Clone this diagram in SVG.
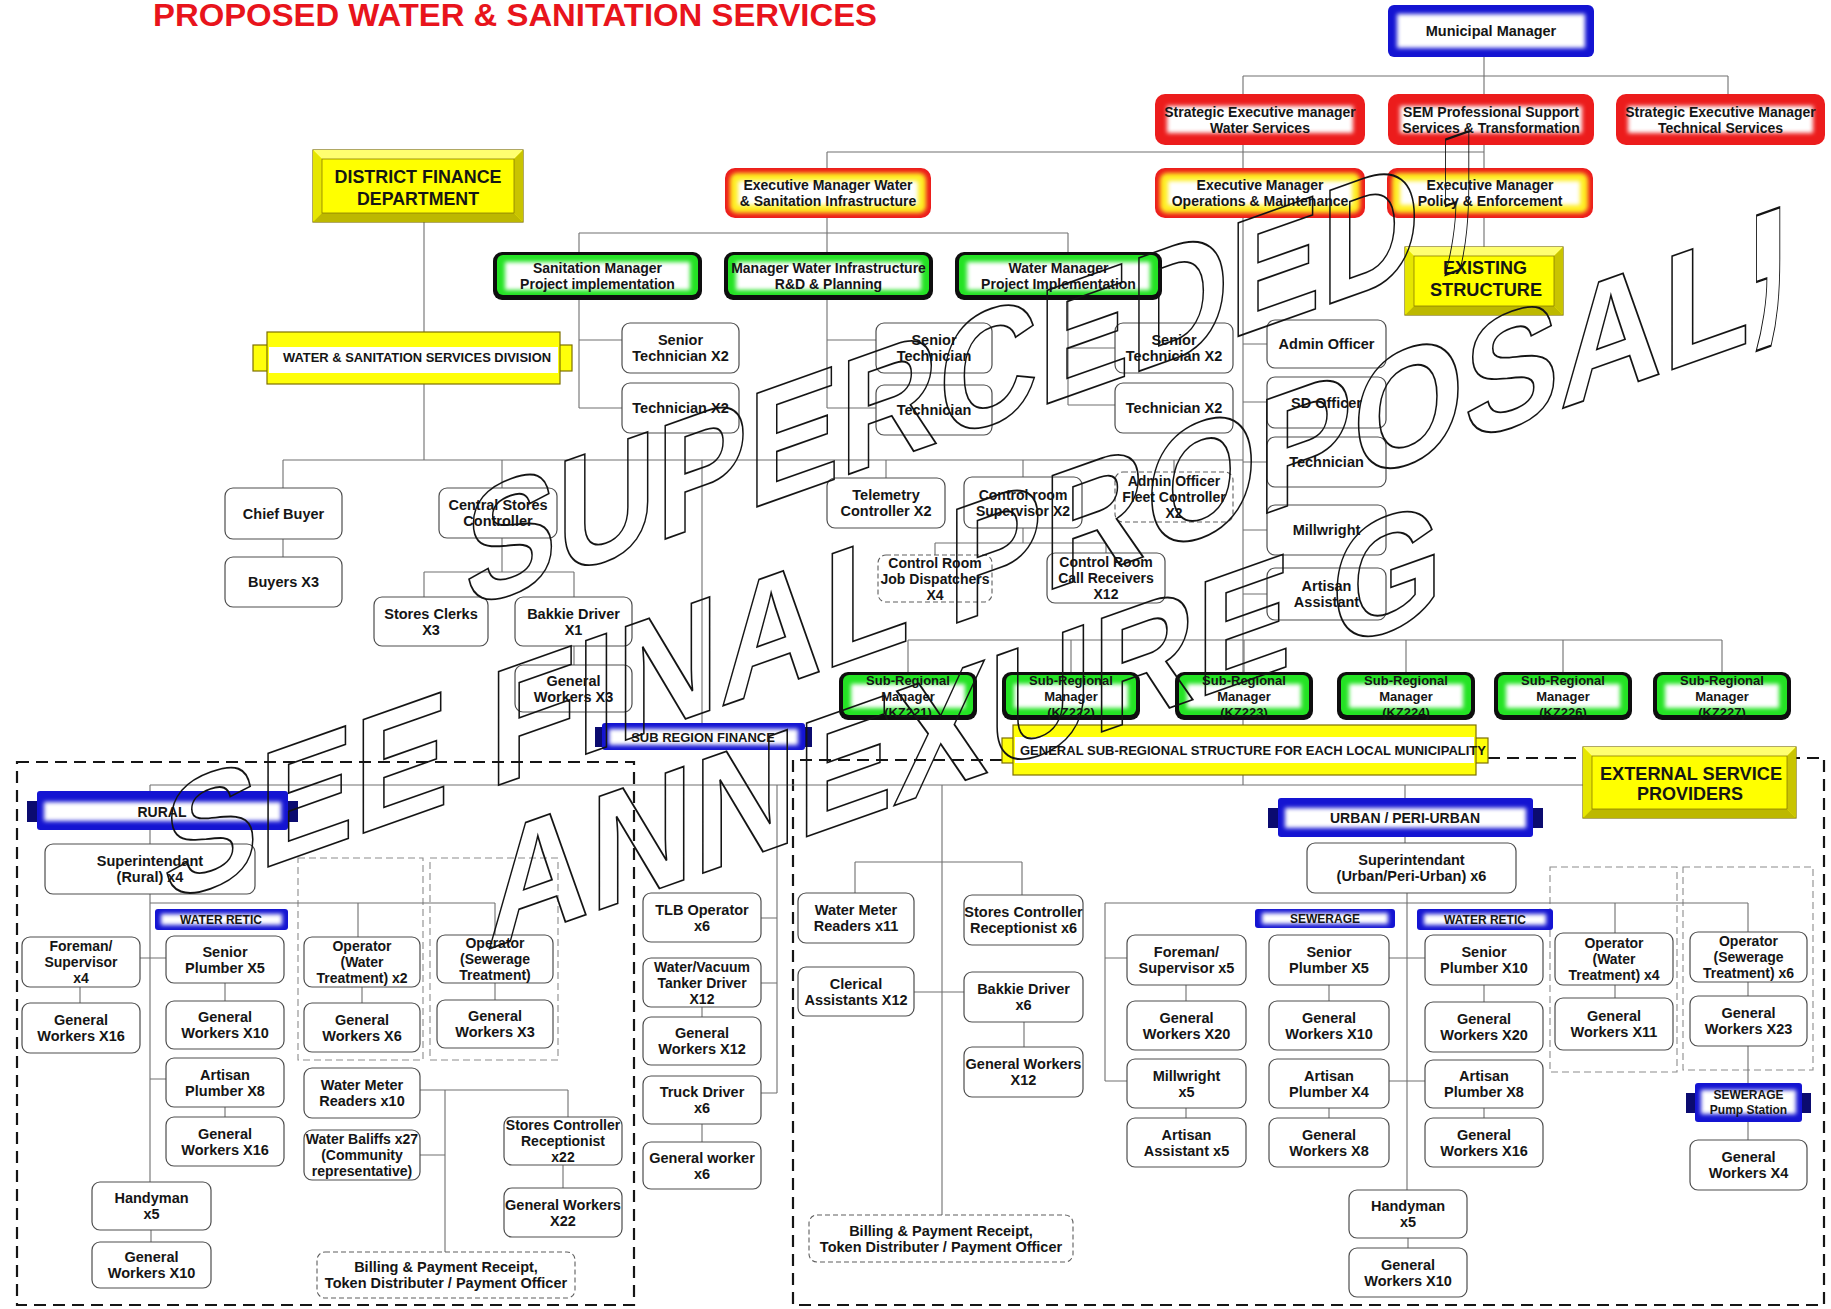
<svg xmlns="http://www.w3.org/2000/svg" width="1831" height="1309" viewBox="0 0 1831 1309">
<defs>
<style>
.t{font-family:"Liberation Sans",Arial,sans-serif;font-weight:bold;font-size:14.5px;fill:#151515;text-anchor:middle}
.s14{font-size:14px}
.s13{font-size:13px}
.s12{font-size:12px}
.hd{font-size:17.5px}
.box{fill:#fff;stroke:#4e4e4e;stroke-width:1.2}
.dbox{fill:#fff;stroke:#5e5e5e;stroke-width:1.1;stroke-dasharray:5 3}
.ln{fill:none;stroke:#707070;stroke-width:1.1}
.zone{fill:none;stroke:#151515;stroke-width:2.2;stroke-dasharray:12 7}
.sub{fill:none;stroke:#8c8c8c;stroke-width:1.1;stroke-dasharray:7 4}
.red{fill:#ec1c1c}
.ylw{fill:#ffee22}
.grk{fill:#0e0e0e}
.grn{fill:#24e324}
.blu{fill:#1414d2}
.tab{fill:#0b0b70}
.wht{fill:#fff}
.yb{fill:#ffff0a;stroke:#7d7000;stroke-width:1.2}
.ybi{fill:#ffff00;stroke:#8a7d00;stroke-width:0.8}
.bt{fill:#ffff70}.bl{fill:#e6e600}.br{fill:#c9c400}.bb{fill:#bdb800}
.wm{font-family:"Liberation Sans",Arial,sans-serif;font-weight:bold;font-size:165px;fill:none;stroke:#141414;stroke-width:1.8}
</style>
<filter id="soft" x="-10%" y="-40%" width="120%" height="180%"><feGaussianBlur stdDeviation="2"/></filter>
</defs>
<rect width="1831" height="1309" fill="#fff"/>

<text id="title" x="153" y="26" font-family="Liberation Sans,Arial,sans-serif" font-weight="bold" font-size="32" fill="#e8141c" textLength="724" lengthAdjust="spacingAndGlyphs">PROPOSED WATER &amp; SANITATION SERVICES</text>

<!-- dashed service zones -->
<g id="zones">
<path class="zone" d="M17,762H634V1305H17Z"/>
<path class="zone" d="M1002,760H793V1305H1824V758H1796M1488,758H1583"/>
<rect class="sub" x="298" y="858" width="125" height="202"/>
<rect class="sub" x="430" y="858" width="128" height="202"/>
<rect class="sub" x="1550" y="867" width="127" height="205"/>
<rect class="sub" x="1683" y="867" width="130" height="203"/>
</g>

<!-- reporting lines -->
<g id="connectors" class="ln">
<path d="M1484,57V247M1243,76H1728M1728,76V94M1243,76V725M1243,775V785"/>
<path d="M827,152H1484M827,152V168M827,218V408"/>
<path d="M579,233H1068M579,233V408M579,340H622M579,408H622M827,340H876M827,408H876"/>
<path d="M1068,233V405M1068,348H1115M1068,405H1115"/>
<path d="M1243,344H1267M1243,402H1267M1243,462H1267M1243,530H1267M1243,594H1267"/>
<path d="M424,222V332M424,384V460M283,460H1243M283,460V488M283,539V557"/>
<path d="M502,460V488M502,538V572M424,572H574M424,572V597M574,572V597M574,646V665"/>
<path d="M886,460V478M1023,460V477M1174,460V472M1023,528V543M935,543H1106M935,543V555M1106,543V553"/>
<path d="M702,460V723"/>
<path d="M908,640H1722M908,640V672M1071,640V672M1244,640V672M1406,640V672M1563,640V672M1722,640V672"/>
<path d="M150,785H1583M150,785V791M150,830V844M150,894V1182M150,903H495M358,903V937M495,903V935"/>
<path d="M140,958H166M150,1079H166M80,987V1003M225,983V1001M225,1107V1117M362,987V1003M495,983V1000"/>
<path d="M420,1090H568M445,1090V1252M420,1155H445M568,1090V1117M563,1165V1188M151,1230V1242"/>
<path d="M777,785V1093M761,918H777M761,983H777M761,1093H777M702,1007V1017M702,1124V1142"/>
<path d="M942,785V1215M855,862H1022M855,862V893M1022,862V895M914,992H964M1024,1022V1047"/>
<path d="M1405,785V798M1405,837V843M1407,893V1190M1105,903H1748M1105,903V1081M1105,958H1127M1105,1081H1127"/>
<path d="M1186,985V1001M1186,1108V1118M1329,985V1001M1329,1108V1118M1389,958H1425M1389,1081H1425"/>
<path d="M1484,985V1002M1484,1108V1118M1408,1238V1248M1615,903V933M1615,985V998"/>
<path d="M1748,903V932M1748,982V996M1748,1046V1083M1748,1122V1140"/>
</g>

<!-- senior management -->
<g id="n-municipal-manager">
<rect x="1388" y="5" width="206" height="52" rx="6" class="blu"/>
<rect x="1397" y="14" width="188" height="34" class="wht" filter="url(#soft)"/>
<text class="t" x="1491" y="36">Municipal Manager</text>
</g>
<g id="n-sem-water">
<rect class="red" x="1155" y="94" width="210" height="51" rx="10"/>
<rect class="wht" x="1167" y="106" width="186" height="27" filter="url(#soft)"/>
<text class="t s14" x="1260" y="116.5">Strategic Executive manager<tspan x="1260" dy="16">Water Services</tspan></text>
</g>
<g id="n-sem-support">
<rect class="red" x="1388" y="94" width="206" height="51" rx="10"/>
<rect class="wht" x="1400" y="106" width="182" height="27" filter="url(#soft)"/>
<text class="t s14" x="1491" y="116.5">SEM Professional Support<tspan x="1491" dy="16">Services &amp; Transformation</tspan></text>
</g>
<g id="n-sem-technical">
<rect class="red" x="1616" y="94" width="209" height="51" rx="10"/>
<rect class="wht" x="1628" y="106" width="185" height="27" filter="url(#soft)"/>
<text class="t s14" x="1720.5" y="116.5">Strategic Executive Manager<tspan x="1720.5" dy="16">Technical Services</tspan></text>
</g>
<g id="n-em-ops">
<rect class="red" x="1155" y="168" width="210" height="50" rx="10"/>
<rect class="ylw" x="1160" y="173" width="200" height="40" rx="7" filter="url(#soft)"/>
<rect class="wht" x="1168" y="181" width="184" height="24" filter="url(#soft)"/>
<text class="t s14" x="1260" y="190">Executive Manager<tspan x="1260" dy="16">Operations &amp; Maintenance</tspan></text>
</g>
<g id="n-em-policy">
<rect class="red" x="1387" y="168" width="206" height="50" rx="10"/>
<rect class="ylw" x="1392" y="173" width="196" height="40" rx="7" filter="url(#soft)"/>
<rect class="wht" x="1400" y="181" width="180" height="24" filter="url(#soft)"/>
<text class="t s14" x="1490" y="190">Executive Manager<tspan x="1490" dy="16">Policy &amp; Enforcement</tspan></text>
</g>
<g id="n-em-wsi">
<rect class="red" x="725" y="168" width="206" height="50" rx="10"/>
<rect class="ylw" x="730" y="173" width="196" height="40" rx="7" filter="url(#soft)"/>
<rect class="wht" x="738" y="181" width="180" height="24" filter="url(#soft)"/>
<text class="t s14" x="828" y="190">Executive Manager Water<tspan x="828" dy="16">&amp; Sanitation Infrastructure</tspan></text>
</g>

<!-- project managers -->
<g id="n-sanitation-manager">
<rect class="grk" x="493" y="252" width="209" height="48" rx="9"/>
<rect class="grn" x="497" y="255" width="201" height="40" rx="6"/>
<rect class="wht" x="505" y="262" width="185" height="28" filter="url(#soft)"/>
<text class="t s14" x="597.5" y="273">Sanitation Manager<tspan x="597.5" dy="16">Project implementation</tspan></text>
</g>
<g id="n-manager-water-infra">
<rect class="grk" x="724" y="252" width="209" height="48" rx="9"/>
<rect class="grn" x="728" y="255" width="201" height="40" rx="6"/>
<rect class="wht" x="736" y="262" width="185" height="28" filter="url(#soft)"/>
<text class="t s14" x="828.5" y="273">Manager Water Infrastructure<tspan x="828.5" dy="16">R&amp;D &amp; Planning</tspan></text>
</g>
<g id="n-water-manager">
<rect class="grk" x="955" y="252" width="207" height="48" rx="9"/>
<rect class="grn" x="959" y="255" width="199" height="40" rx="6"/>
<rect class="wht" x="967" y="262" width="183" height="28" filter="url(#soft)"/>
<text class="t s14" x="1058.5" y="273">Water Manager<tspan x="1058.5" dy="16">Project Implementation</tspan></text>
</g>

<!-- headings -->
<g id="n-district-finance">
<rect class="yb" x="313" y="150" width="210" height="72"/>
<polygon class="bt" points="313,150 523,150 514,159 322,159"/>
<polygon class="bl" points="313,150 322,159 322,213 313,222"/>
<polygon class="br" points="523,150 523,222 514,213 514,159"/>
<polygon class="bb" points="313,222 322,213 514,213 523,222"/>
<rect class="ybi" x="322" y="159" width="192" height="54"/>
<text class="t hd" x="418" y="183" textLength="167" lengthAdjust="spacingAndGlyphs">DISTRICT FINANCE</text>
<text class="t hd" x="418" y="205" textLength="122" lengthAdjust="spacingAndGlyphs">DEPARTMENT</text>
</g>
<g id="n-existing-structure">
<rect class="yb" x="1405" y="247" width="158" height="68"/>
<polygon class="bt" points="1405,247 1563,247 1554,256 1414,256"/>
<polygon class="bl" points="1405,247 1414,256 1414,306 1405,315"/>
<polygon class="br" points="1563,247 1563,315 1554,306 1554,256"/>
<polygon class="bb" points="1405,315 1414,306 1554,306 1563,315"/>
<rect class="ybi" x="1414" y="256" width="140" height="50"/>
<text class="t hd" x="1485" y="274" textLength="84" lengthAdjust="spacingAndGlyphs">EXISTING</text>
<text class="t hd" x="1486" y="296" textLength="112" lengthAdjust="spacingAndGlyphs">STRUCTURE</text>
</g>
<g id="n-ws-division">
<rect class="yb" x="253" y="345" width="16" height="26"/>
<rect class="yb" x="558" y="345" width="14" height="26"/>
<rect class="yb" x="267" y="332" width="293" height="52"/>
<rect class="wht" x="269" y="347" width="289" height="26"/>
<text class="t s12" x="417" y="362" textLength="268" lengthAdjust="spacingAndGlyphs">WATER &amp; SANITATION SERVICES DIVISION</text>
</g>

<!-- technical staff -->
<g id="n-sen-tech-1"><rect class="box" x="622" y="323" width="117" height="50" rx="8"/><text class="t" x="680.5" y="345">Senior<tspan x="680.5" dy="16">Technician X2</tspan></text></g>
<g id="n-tech-1"><rect class="box" x="622" y="383" width="117" height="50" rx="8"/><text class="t" x="680.5" y="413">Technician X2</text></g>
<g id="n-sen-tech-2"><rect class="box" x="876" y="323" width="116" height="50" rx="8"/><text class="t" x="934" y="345">Senior<tspan x="934" dy="16">Technician</tspan></text></g>
<g id="n-tech-2"><rect class="box" x="876" y="385" width="116" height="50" rx="8"/><text class="t" x="934" y="415">Technician</text></g>
<g id="n-sen-tech-3"><rect class="box" x="1115" y="323" width="118" height="50" rx="8"/><text class="t" x="1174" y="345">Senior<tspan x="1174" dy="16">Technician X2</tspan></text></g>
<g id="n-tech-3"><rect class="box" x="1115" y="383" width="118" height="50" rx="8"/><text class="t" x="1174" y="413">Technician X2</text></g>
<g id="n-admin-officer"><rect class="box" x="1267" y="320" width="119" height="48" rx="8"/><text class="t" x="1326.5" y="349">Admin Officer</text></g>
<g id="n-sd-officer"><rect class="box" x="1267" y="377" width="119" height="51" rx="8"/><text class="t" x="1326.5" y="407.5">SD Officer</text></g>
<g id="n-technician-es"><rect class="box" x="1267" y="437" width="119" height="50" rx="8"/><text class="t" x="1326.5" y="467">Technician</text></g>
<g id="n-millwright-es"><rect class="box" x="1267" y="505" width="119" height="50" rx="8"/><text class="t" x="1326.5" y="535">Millwright</text></g>
<g id="n-artisan-es"><rect class="box" x="1267" y="568" width="119" height="52" rx="8"/><text class="t" x="1326.5" y="591">Artisan<tspan x="1326.5" dy="16">Assistant</tspan></text></g>

<!-- finance and stores -->
<g id="n-chief-buyer"><rect class="box" x="225" y="488" width="117" height="51" rx="8"/><text class="t" x="283.5" y="518.5">Chief Buyer</text></g>
<g id="n-buyers"><rect class="box" x="225" y="557" width="117" height="50" rx="8"/><text class="t" x="283.5" y="587">Buyers X3</text></g>
<g id="n-central-stores"><rect class="box" x="439" y="488" width="118" height="50" rx="8"/><text class="t" x="498" y="510">Central Stores<tspan x="498" dy="16">Controller</tspan></text></g>
<g id="n-stores-clerks"><rect class="box" x="374" y="597" width="114" height="49" rx="8"/><text class="t" x="431" y="618.5">Stores Clerks<tspan x="431" dy="16">X3</tspan></text></g>
<g id="n-bakkie-1"><rect class="box" x="515" y="597" width="117" height="49" rx="8"/><text class="t" x="573.5" y="618.5">Bakkie Driver<tspan x="573.5" dy="16">X1</tspan></text></g>
<g id="n-gw-stores"><rect class="box" x="515" y="665" width="117" height="47" rx="8"/><text class="t" x="573.5" y="685.5">General<tspan x="573.5" dy="16">Workers X3</tspan></text></g>

<!-- control room -->
<g id="n-telemetry"><rect class="box" x="827" y="478" width="118" height="50" rx="8"/><text class="t" x="886" y="500">Telemetry<tspan x="886" dy="16">Controller X2</tspan></text></g>
<g id="n-cr-supervisor"><rect class="box" x="964" y="477" width="118" height="51" rx="8"/><text class="t s14" x="1023" y="499.5">Control room<tspan x="1023" dy="16">Supervisor X2</tspan></text></g>
<g id="n-fleet"><rect class="dbox" x="1115" y="472" width="118" height="50" rx="8"/><text class="t s14" x="1174" y="486">Admin Officer<tspan x="1174" dy="16">Fleet Controller</tspan><tspan x="1174" dy="16">X2</tspan></text></g>
<g id="n-dispatchers"><rect class="dbox" x="878" y="555" width="114" height="47" rx="8"/><text class="t s14" x="935" y="567.5">Control Room<tspan x="935" dy="16">Job Dispatchers</tspan><tspan x="935" dy="16">X4</tspan></text></g>
<g id="n-call-receivers"><rect class="box" x="1047" y="553" width="118" height="50" rx="8"/><text class="t s14" x="1106" y="567">Control Room<tspan x="1106" dy="16">Call Receivers</tspan><tspan x="1106" dy="16">X12</tspan></text></g>

<!-- sub-regional managers -->
<g id="n-srm-kz221"><rect class="grk" x="839" y="672" width="138" height="48" rx="9"/><rect class="grn" x="843" y="675" width="130" height="40" rx="6"/><rect class="wht" x="851" y="684" width="114" height="24" filter="url(#soft)"/><text class="t s13" x="908" y="685">Sub-Regional<tspan x="908" dy="16">Manager</tspan><tspan x="908" dy="16">(KZ221)</tspan></text></g>
<g id="n-srm-kz222"><rect class="grk" x="1002" y="672" width="138" height="48" rx="9"/><rect class="grn" x="1006" y="675" width="130" height="40" rx="6"/><rect class="wht" x="1014" y="684" width="114" height="24" filter="url(#soft)"/><text class="t s13" x="1071" y="685">Sub-Regional<tspan x="1071" dy="16">Manager</tspan><tspan x="1071" dy="16">(KZ222)</tspan></text></g>
<g id="n-srm-kz223"><rect class="grk" x="1175" y="672" width="138" height="48" rx="9"/><rect class="grn" x="1179" y="675" width="130" height="40" rx="6"/><rect class="wht" x="1187" y="684" width="114" height="24" filter="url(#soft)"/><text class="t s13" x="1244" y="685">Sub-Regional<tspan x="1244" dy="16">Manager</tspan><tspan x="1244" dy="16">(KZ223)</tspan></text></g>
<g id="n-srm-kz224"><rect class="grk" x="1337" y="672" width="138" height="48" rx="9"/><rect class="grn" x="1341" y="675" width="130" height="40" rx="6"/><rect class="wht" x="1349" y="684" width="114" height="24" filter="url(#soft)"/><text class="t s13" x="1406" y="685">Sub-Regional<tspan x="1406" dy="16">Manager</tspan><tspan x="1406" dy="16">(KZ224)</tspan></text></g>
<g id="n-srm-kz226"><rect class="grk" x="1494" y="672" width="138" height="48" rx="9"/><rect class="grn" x="1498" y="675" width="130" height="40" rx="6"/><rect class="wht" x="1506" y="684" width="114" height="24" filter="url(#soft)"/><text class="t s13" x="1563" y="685">Sub-Regional<tspan x="1563" dy="16">Manager</tspan><tspan x="1563" dy="16">(KZ226)</tspan></text></g>
<g id="n-srm-kz227"><rect class="grk" x="1653" y="672" width="138" height="48" rx="9"/><rect class="grn" x="1657" y="675" width="130" height="40" rx="6"/><rect class="wht" x="1665" y="684" width="114" height="24" filter="url(#soft)"/><text class="t s13" x="1722" y="685">Sub-Regional<tspan x="1722" dy="16">Manager</tspan><tspan x="1722" dy="16">(KZ227)</tspan></text></g>

<g id="n-general-subregional">
<rect class="yb" x="1002" y="738" width="13" height="25"/>
<rect class="yb" x="1474" y="738" width="14" height="25"/>
<rect class="yb" x="1013" y="725" width="463" height="50"/>
<rect class="wht" x="1015" y="737" width="459" height="26"/>
<text class="t s12" x="1253" y="755" textLength="466" lengthAdjust="spacingAndGlyphs">GENERAL SUB-REGIONAL STRUCTURE FOR EACH LOCAL MUNICIPALITY</text>
</g>
<g id="n-sub-region-finance">
<rect class="tab" x="595" y="727" width="9" height="20"/>
<rect class="tab" x="803" y="727" width="9" height="20"/>
<rect class="blu" x="602" y="723" width="203" height="27" rx="3"/>
<rect class="wht" x="609" y="729" width="189" height="16" filter="url(#soft)"/>
<text class="t s13" x="703" y="742">SUB REGION FINANCE</text>
</g>
<g id="n-external">
<rect class="yb" x="1583" y="747" width="213" height="71"/>
<polygon class="bt" points="1583,747 1796,747 1787,756 1592,756"/>
<polygon class="bl" points="1583,747 1592,756 1592,809 1583,818"/>
<polygon class="br" points="1796,747 1796,818 1787,809 1787,756"/>
<polygon class="bb" points="1583,818 1592,809 1787,809 1796,818"/>
<rect class="ybi" x="1592" y="756" width="195" height="53"/>
<text class="t hd" x="1691" y="780" textLength="182" lengthAdjust="spacingAndGlyphs">EXTERNAL SERVICE</text>
<text class="t hd" x="1690" y="800" textLength="106" lengthAdjust="spacingAndGlyphs">PROVIDERS</text>
</g>

<!-- rural -->
<g id="n-rural">
<rect class="tab" x="27" y="801" width="12" height="21"/>
<rect class="tab" x="286" y="801" width="12" height="21"/>
<rect class="blu" x="37" y="791" width="251" height="39" rx="3"/>
<rect class="wht" x="44" y="802" width="237" height="19" filter="url(#soft)"/>
<text class="t s14" x="162" y="817">RURAL</text>
</g>
<g id="n-supt-rural"><rect class="box" x="45" y="844" width="210" height="50" rx="8"/><text class="t" x="150" y="866">Superintendant<tspan x="150" dy="16">(Rural) x4</tspan></text></g>
<g id="n-retic-rural"><rect class="blu" x="155" y="909" width="133" height="21" rx="3"/><rect class="wht" x="161" y="914" width="121" height="11" filter="url(#soft)"/><text class="t s12" x="221" y="924" fill="#0b0b70">WATER RETIC</text></g>
<g id="n-foreman-r"><rect class="box" x="22" y="937" width="118" height="50" rx="8"/><text class="t s14" x="81" y="951">Foreman/<tspan x="81" dy="16">Supervisor</tspan><tspan x="81" dy="16">x4</tspan></text></g>
<g id="n-gw16-r1"><rect class="box" x="22" y="1003" width="118" height="50" rx="8"/><text class="t" x="81" y="1025">General<tspan x="81" dy="16">Workers X16</tspan></text></g>
<g id="n-sp5-r"><rect class="box" x="166" y="936" width="118" height="47" rx="8"/><text class="t" x="225" y="956.5">Senior<tspan x="225" dy="16">Plumber X5</tspan></text></g>
<g id="n-gw10-r1"><rect class="box" x="166" y="1001" width="118" height="48" rx="8"/><text class="t" x="225" y="1022">General<tspan x="225" dy="16">Workers X10</tspan></text></g>
<g id="n-ap8-r"><rect class="box" x="166" y="1058" width="118" height="49" rx="8"/><text class="t" x="225" y="1079.5">Artisan<tspan x="225" dy="16">Plumber X8</tspan></text></g>
<g id="n-gw16-r2"><rect class="box" x="166" y="1117" width="118" height="49" rx="8"/><text class="t" x="225" y="1138.5">General<tspan x="225" dy="16">Workers X16</tspan></text></g>
<g id="n-opw-r"><rect class="box" x="304" y="937" width="116" height="50" rx="8"/><text class="t s14" x="362" y="951">Operator<tspan x="362" dy="16">(Water</tspan><tspan x="362" dy="16">Treatment) x2</tspan></text></g>
<g id="n-gw6-r"><rect class="box" x="304" y="1003" width="116" height="49" rx="8"/><text class="t" x="362" y="1024.5">General<tspan x="362" dy="16">Workers X6</tspan></text></g>
<g id="n-ops-r"><rect class="box" x="437" y="935" width="116" height="48" rx="8"/><text class="t s14" x="495" y="948">Operator<tspan x="495" dy="16">(Sewerage</tspan><tspan x="495" dy="16">Treatment)</tspan></text></g>
<g id="n-gw3-r"><rect class="box" x="437" y="1000" width="116" height="48" rx="8"/><text class="t" x="495" y="1021">General<tspan x="495" dy="16">Workers X3</tspan></text></g>
<g id="n-wmr10"><rect class="box" x="304" y="1068" width="116" height="50" rx="8"/><text class="t" x="362" y="1090">Water Meter<tspan x="362" dy="16">Readers x10</tspan></text></g>
<g id="n-bailiffs"><rect class="box" x="304" y="1130" width="116" height="50" rx="8"/><text class="t s14" x="362" y="1144">Water Baliffs x27<tspan x="362" dy="16">(Community</tspan><tspan x="362" dy="16">representative)</tspan></text></g>
<g id="n-stores22"><rect class="box" x="504" y="1117" width="118" height="48" rx="8"/><text class="t s14" x="563" y="1130">Stores Controller<tspan x="563" dy="16">Receptionist</tspan><tspan x="563" dy="16">x22</tspan></text></g>
<g id="n-gw22"><rect class="box" x="504" y="1188" width="118" height="49" rx="8"/><text class="t" x="563" y="1209.5">General Workers<tspan x="563" dy="16">X22</tspan></text></g>
<g id="n-billing-r"><rect class="dbox" x="317" y="1252" width="258" height="46" rx="8"/><text class="t" x="446" y="1272">Billing &amp; Payment Receipt,<tspan x="446" dy="16">Token Distributer / Payment Officer</tspan></text></g>
<g id="n-handy-r"><rect class="box" x="92" y="1182" width="119" height="48" rx="8"/><text class="t" x="151.5" y="1203">Handyman<tspan x="151.5" dy="16">x5</tspan></text></g>
<g id="n-gw10-r2"><rect class="box" x="92" y="1242" width="119" height="46" rx="8"/><text class="t" x="151.5" y="1262">General<tspan x="151.5" dy="16">Workers X10</tspan></text></g>

<!-- plant and transport -->
<g id="n-tlb"><rect class="box" x="643" y="893" width="118" height="49" rx="8"/><text class="t" x="702" y="914.5">TLB Operator<tspan x="702" dy="16">x6</tspan></text></g>
<g id="n-tanker"><rect class="box" x="643" y="958" width="118" height="49" rx="8"/><text class="t s14" x="702" y="971.5">Water/Vacuum<tspan x="702" dy="16">Tanker Driver</tspan><tspan x="702" dy="16">X12</tspan></text></g>
<g id="n-gw12-t"><rect class="box" x="643" y="1017" width="118" height="48" rx="8"/><text class="t" x="702" y="1038">General<tspan x="702" dy="16">Workers X12</tspan></text></g>
<g id="n-truck"><rect class="box" x="643" y="1076" width="118" height="48" rx="8"/><text class="t" x="702" y="1097">Truck Driver<tspan x="702" dy="16">x6</tspan></text></g>
<g id="n-gw6-t"><rect class="box" x="643" y="1142" width="118" height="47" rx="8"/><text class="t" x="702" y="1162.5">General worker<tspan x="702" dy="16">x6</tspan></text></g>

<!-- urban support -->
<g id="n-wmr11"><rect class="box" x="798" y="893" width="116" height="50" rx="8"/><text class="t" x="856" y="915">Water Meter<tspan x="856" dy="16">Readers x11</tspan></text></g>
<g id="n-clerical"><rect class="box" x="798" y="967" width="116" height="49" rx="8"/><text class="t" x="856" y="988.5">Clerical<tspan x="856" dy="16">Assistants X12</tspan></text></g>
<g id="n-billing-u"><rect class="dbox" x="809" y="1215" width="264" height="47" rx="8"/><text class="t" x="941" y="1235.5">Billing &amp; Payment Receipt,<tspan x="941" dy="16">Token Distributer / Payment Officer</tspan></text></g>
<g id="n-stores6"><rect class="box" x="964" y="895" width="119" height="50" rx="8"/><text class="t" x="1023.5" y="917">Stores Controller<tspan x="1023.5" dy="16">Receptionist x6</tspan></text></g>
<g id="n-bakkie6"><rect class="box" x="964" y="972" width="119" height="50" rx="8"/><text class="t" x="1023.5" y="994">Bakkie Driver<tspan x="1023.5" dy="16">x6</tspan></text></g>
<g id="n-gw12-u"><rect class="box" x="964" y="1047" width="119" height="50" rx="8"/><text class="t" x="1023.5" y="1069">General Workers<tspan x="1023.5" dy="16">X12</tspan></text></g>

<!-- urban / peri-urban -->
<g id="n-urban">
<rect class="tab" x="1268" y="808" width="12" height="20"/>
<rect class="tab" x="1531" y="808" width="12" height="20"/>
<rect class="blu" x="1278" y="798" width="255" height="39" rx="3"/>
<rect class="wht" x="1285" y="808" width="241" height="20" filter="url(#soft)"/>
<text class="t s14" x="1405" y="823">URBAN / PERI-URBAN</text>
</g>
<g id="n-supt-urban"><rect class="box" x="1307" y="843" width="209" height="50" rx="8"/><text class="t" x="1411.5" y="865">Superintendant<tspan x="1411.5" dy="16">(Urban/Peri-Urban) x6</tspan></text></g>
<g id="n-sewerage-bar"><rect class="blu" x="1255" y="909" width="140" height="19" rx="3"/><rect class="wht" x="1262" y="913" width="126" height="11" filter="url(#soft)"/><text class="t s12" x="1325" y="923" fill="#0b0b70">SEWERAGE</text></g>
<g id="n-retic-urban"><rect class="blu" x="1417" y="909" width="136" height="21" rx="3"/><rect class="wht" x="1424" y="914" width="122" height="11" filter="url(#soft)"/><text class="t s12" x="1485" y="924" fill="#0b0b70">WATER RETIC</text></g>
<g id="n-foreman-u"><rect class="box" x="1127" y="935" width="119" height="50" rx="8"/><text class="t" x="1186.5" y="957">Foreman/<tspan x="1186.5" dy="16">Supervisor x5</tspan></text></g>
<g id="n-gw20-u1"><rect class="box" x="1127" y="1001" width="119" height="49" rx="8"/><text class="t" x="1186.5" y="1022.5">General<tspan x="1186.5" dy="16">Workers X20</tspan></text></g>
<g id="n-millwright-u"><rect class="box" x="1127" y="1059" width="119" height="49" rx="8"/><text class="t" x="1186.5" y="1080.5">Millwright<tspan x="1186.5" dy="16">x5</tspan></text></g>
<g id="n-artisan-u"><rect class="box" x="1127" y="1118" width="119" height="49" rx="8"/><text class="t" x="1186.5" y="1139.5">Artisan<tspan x="1186.5" dy="16">Assistant x5</tspan></text></g>
<g id="n-sp5-u"><rect class="box" x="1269" y="935" width="120" height="50" rx="8"/><text class="t" x="1329" y="957">Senior<tspan x="1329" dy="16">Plumber X5</tspan></text></g>
<g id="n-gw10-u"><rect class="box" x="1269" y="1001" width="120" height="49" rx="8"/><text class="t" x="1329" y="1022.5">General<tspan x="1329" dy="16">Workers X10</tspan></text></g>
<g id="n-ap4-u"><rect class="box" x="1269" y="1059" width="120" height="49" rx="8"/><text class="t" x="1329" y="1080.5">Artisan<tspan x="1329" dy="16">Plumber X4</tspan></text></g>
<g id="n-gw8-u"><rect class="box" x="1269" y="1118" width="120" height="49" rx="8"/><text class="t" x="1329" y="1139.5">General<tspan x="1329" dy="16">Workers X8</tspan></text></g>
<g id="n-sp10-u"><rect class="box" x="1425" y="935" width="118" height="50" rx="8"/><text class="t" x="1484" y="957">Senior<tspan x="1484" dy="16">Plumber X10</tspan></text></g>
<g id="n-gw20-u2"><rect class="box" x="1425" y="1002" width="118" height="50" rx="8"/><text class="t" x="1484" y="1024">General<tspan x="1484" dy="16">Workers X20</tspan></text></g>
<g id="n-ap8-u"><rect class="box" x="1425" y="1060" width="118" height="48" rx="8"/><text class="t" x="1484" y="1081">Artisan<tspan x="1484" dy="16">Plumber X8</tspan></text></g>
<g id="n-gw16-u"><rect class="box" x="1425" y="1118" width="118" height="49" rx="8"/><text class="t" x="1484" y="1139.5">General<tspan x="1484" dy="16">Workers X16</tspan></text></g>
<g id="n-handy-u"><rect class="box" x="1349" y="1190" width="118" height="48" rx="8"/><text class="t" x="1408" y="1211">Handyman<tspan x="1408" dy="16">x5</tspan></text></g>
<g id="n-gw10-u2"><rect class="box" x="1349" y="1248" width="118" height="49" rx="8"/><text class="t" x="1408" y="1269.5">General<tspan x="1408" dy="16">Workers X10</tspan></text></g>
<g id="n-opw-u"><rect class="box" x="1555" y="933" width="118" height="52" rx="8"/><text class="t s14" x="1614" y="948">Operator<tspan x="1614" dy="16">(Water</tspan><tspan x="1614" dy="16">Treatment) x4</tspan></text></g>
<g id="n-gw11-u"><rect class="box" x="1555" y="998" width="118" height="52" rx="8"/><text class="t" x="1614" y="1021">General<tspan x="1614" dy="16">Workers X11</tspan></text></g>
<g id="n-ops-u"><rect class="box" x="1690" y="932" width="117" height="50" rx="8"/><text class="t s14" x="1748.5" y="946">Operator<tspan x="1748.5" dy="16">(Sewerage</tspan><tspan x="1748.5" dy="16">Treatment) x6</tspan></text></g>
<g id="n-gw23-u"><rect class="box" x="1690" y="996" width="117" height="50" rx="8"/><text class="t" x="1748.5" y="1018">General<tspan x="1748.5" dy="16">Workers X23</tspan></text></g>
<g id="n-pump-station">
<rect class="tab" x="1686" y="1093" width="11" height="20"/>
<rect class="tab" x="1800" y="1093" width="11" height="20"/>
<rect class="blu" x="1695" y="1083" width="107" height="39" rx="3"/>
<rect class="wht" x="1701" y="1090" width="95" height="24" filter="url(#soft)"/>
<text class="t s12" x="1748.5" y="1099" fill="#0b0b70">SEWERAGE<tspan x="1748.5" dy="15">Pump Station</tspan></text>
</g>
<g id="n-gw4-u"><rect class="box" x="1690" y="1140" width="117" height="50" rx="8"/><text class="t" x="1748.5" y="1162">General<tspan x="1748.5" dy="16">Workers X4</tspan></text></g>

<!-- outlined stamp across the chart -->
<g id="watermark">
<text class="wm" transform="translate(465,610) skewY(-19.5)" textLength="955" lengthAdjust="spacingAndGlyphs">SUPERCEDED</text>
<text class="wm" transform="translate(1434,267) skewY(-19.5) translate(0,-57) scale(1,2.7)" vector-effect="non-scaling-stroke">,</text>
<text class="wm" transform="translate(163,904) skewY(-19.5)" textLength="1587" lengthAdjust="spacingAndGlyphs">SEE FINAL PROPOSAL</text>
<text class="wm" transform="translate(1745,343) skewY(-19.5) translate(0,-57) scale(1,2.7)" vector-effect="non-scaling-stroke">,</text>
<text class="wm" transform="translate(486,950) skewY(-19.5)" textLength="957" lengthAdjust="spacingAndGlyphs">ANNEXURE G</text>
</g>
</svg>
